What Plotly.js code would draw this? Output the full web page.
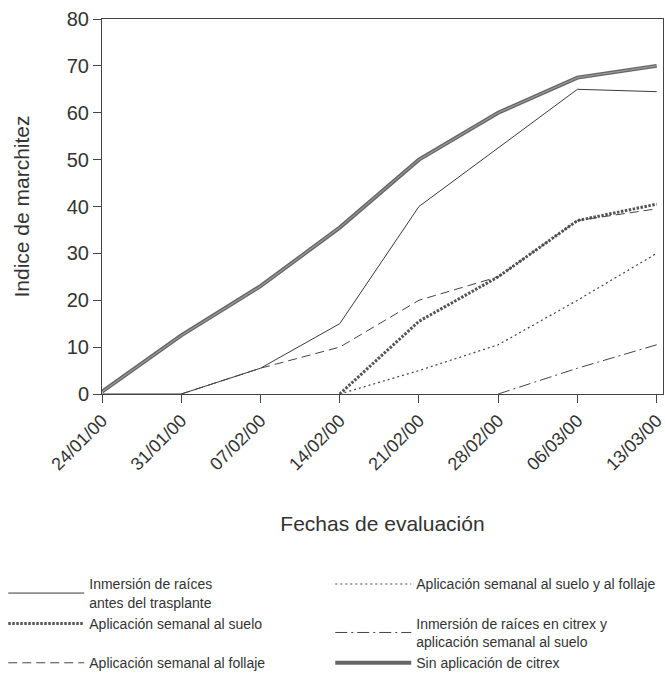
<!DOCTYPE html>
<html>
<head>
<meta charset="utf-8">
<script src="https://cdn.plot.ly/plotly-3.0.1.min.js"></script>
<style>html,body{margin:0;padding:0;background:#fff;}#chart{width:665px;height:683px;}</style>
</head>
<body>
<div id="chart"></div>
<script>
const fechas = ["24/01/00","31/01/00","07/02/00","14/02/00","21/02/00","28/02/00","06/03/00","13/03/00"];
const inmersionAntes = [0, 0, 5.5, 15, 40, 52.5, 65, 64.5];
const sueloFollaje   = [null, null, null, 0, 5, 10.5, 20, 30];
const suelo          = [null, null, null, 0, 15.5, 25, 37, 40.5];
const inmersionSuelo = [null, null, null, null, null, 0, 5.5, 10.5];
const follaje        = [null, 0, 5.5, 10, 20, 25, 37, 39.5];
const sinAplicacion  = [0.5, 12.5, 23, 35.5, 50, 60, 67.5, 70];

const names = {
  inmersionAntes: "Inmersión de raíces<br>antes del trasplante",
  sueloFollaje: "Aplicación semanal al suelo y al follaje",
  suelo: "Aplicación semanal al suelo",
  inmersionSuelo: "Inmersión de raíces en citrex y<br>aplicación semanal al suelo",
  follaje: "Aplicación semanal al follaje",
  sinAplicacion: "Sin aplicación de citrex"
};

const traces = [
  {x: fechas, y: inmersionAntes, name: names.inmersionAntes, mode: "lines",
   line: {color: "#3a3a3a", width: 1}},
  {x: fechas, y: sueloFollaje, name: names.sueloFollaje, mode: "lines",
   line: {color: "#444", width: 1.2, dash: "2px,3px"}},
  {x: fechas, y: suelo, name: names.suelo, mode: "lines",
   line: {color: "#555", width: 3, dash: "2.5px,1.5px"}},
  {x: fechas, y: inmersionSuelo, name: names.inmersionSuelo, mode: "lines",
   line: {color: "#444", width: 1, dash: "12px,4px,2px,4px"}},
  {x: fechas, y: follaje, name: names.follaje, mode: "lines",
   line: {color: "#444", width: 1, dash: "9px,5px"}},
  {x: fechas, y: sinAplicacion, name: names.sinAplicacion, mode: "lines",
   line: {color: "#666", width: 4}},
  {x: fechas, y: sinAplicacion, name: names.sinAplicacion, mode: "lines", showlegend: false,
   line: {color: "#9a9a9a", width: 1.2}}
];

const layout = {
  width: 665, height: 683,
  margin: {l: 102, r: 2, t: 19, b: 289},
  paper_bgcolor: "#fff", plot_bgcolor: "#fff",
  font: {family: "Liberation Sans, Arial, sans-serif", color: "#333"},
  showlegend: true,
  xaxis: {
    type: "category", range: [0, 7.08], automargin: false,
    showgrid: false, zeroline: false,
    showline: true, linecolor: "#444", linewidth: 1, mirror: true,
    ticks: "outside", ticklen: 8, tickcolor: "#444",
    tickangle: -45, tickfont: {size: 18, color: "#333"},
    title: {text: "Fechas de evaluación", font: {size: 21, color: "#333"}, standoff: 42}
  },
  yaxis: {
    range: [0, 80], dtick: 10, automargin: false,
    showgrid: false, zeroline: false,
    showline: true, linecolor: "#444", linewidth: 1, mirror: true,
    ticks: "outside", ticklen: 8, tickcolor: "#444",
    tickfont: {size: 20, color: "#333"},
    title: {text: "Indice de marchitez", font: {size: 21, color: "#333"}, standoff: 31}
  },
  legend: {
    orientation: "h", x: -0.176, xanchor: "left", y: -0.465, yanchor: "top",
    entrywidth: 236, entrywidthmode: "pixels", itemwidth: 76,
    font: {size: 14, color: "#333"}, bgcolor: "rgba(0,0,0,0)"
  }
};

Plotly.newPlot("chart", traces, layout, {displayModeBar: false, staticPlot: true});
</script>
</body>
</html>
